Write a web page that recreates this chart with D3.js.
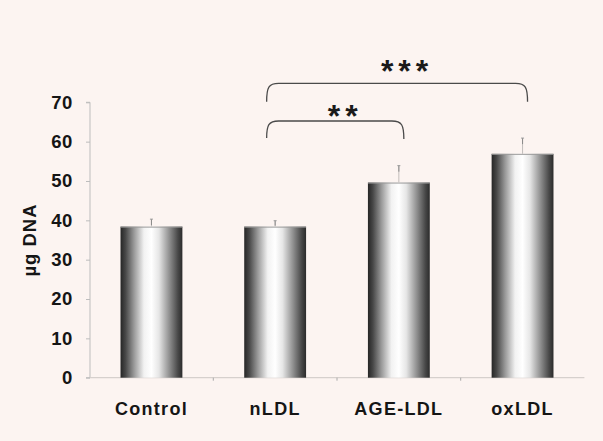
<!DOCTYPE html>
<html>
<head>
<meta charset="utf-8">
<script src="https://cdn.jsdelivr.net/npm/d3@7"></script>
<style>
  html, body { margin: 0; padding: 0; background: #fcf4f1; }
  svg { display: block; }
  text { font-family: "Liberation Sans", Arial, sans-serif; }
</style>
</head>
<body>
<svg id="chart" width="603" height="441"></svg>
<script>
// DNA content per treatment group
const categories = ["Control", "nLDL", "AGE-LDL", "oxLDL"];
const values = [38.4, 38.4, 49.6, 56.9];
const errors = [1.9, 1.5, 4.3, 4.0];
const yTicks = [0, 10, 20, 30, 40, 50, 60, 70];
const yLabel = "µg DNA";
// significance brackets: [from category, to category, label]
const brackets = [
  ["nLDL", "AGE-LDL", "**"],
  ["nLDL", "oxLDL", "***"]
];

const W = 603, H = 441;
const svg = d3.select("#chart");
svg.append("rect").attr("width", W).attr("height", H).attr("fill", "#fcf4f1");

const x = d3.scaleBand().domain(categories).range([89.6, 584.4])
  .paddingInner(0.5).paddingOuter(0.25);
const y = d3.scaleLinear().domain([0, 70]).range([377.7, 102.3]);

// cylinder-like shading for bars
const defs = svg.append("defs");
const grad = defs.append("linearGradient").attr("id", "barShade")
  .attr("x1", "0%").attr("x2", "100%").attr("y1", "0%").attr("y2", "0%");
[[0, "#262626"], [0.08, "#474747"], [0.22, "#9a9a9a"], [0.38, "#f2f2f2"],
 [0.5, "#ffffff"], [0.62, "#e6e6e6"], [0.8, "#8a8a8a"], [0.93, "#474747"], [1, "#2b2b2b"]]
  .forEach(([o, c]) => grad.append("stop").attr("offset", o).attr("stop-color", c));

// y axis
const yAxis = d3.axisLeft(y).tickValues(yTicks).tickSize(4).tickPadding(13)
  .tickFormat(d3.format("d"));
const gy = svg.append("g").attr("transform", "translate(90,0)").call(yAxis);
gy.select(".domain").attr("stroke", "#bdbdbd").attr("d", `M-4,${y(0)}H0V${y(70)}H-4`);
gy.selectAll(".tick line").attr("stroke", "#bdbdbd");
gy.selectAll(".tick text").attr("font-size", 18.5).attr("font-weight", "bold")
  .attr("fill", "#151515").attr("letter-spacing", 0.6)
  .attr("font-family", "Liberation Sans, Arial, sans-serif");

// y axis title
svg.append("text")
  .attr("transform", `translate(36,240) rotate(-90)`)
  .attr("text-anchor", "middle")
  .attr("font-size", 18.5).attr("font-weight", "bold").attr("fill", "#151515")
  .attr("letter-spacing", 1)
  .text(yLabel);

// x axis: baseline, category dividers and labels
const gx = svg.append("g").attr("transform", `translate(0,${y(0)})`);
gx.append("line").attr("x1", 90).attr("x2", 584.4).attr("y1", 0).attr("y2", 0)
  .attr("stroke", "#d6d0cd").attr("stroke-width", 1.2);
const step = x.step();
const dividers = categories.slice(1).map(c => x(c) - step * x.paddingInner() / 2);
gx.selectAll("line.div").data(dividers).join("line").attr("class", "div")
  .attr("x1", d => d).attr("x2", d => d).attr("y1", 0).attr("y2", 3)
  .attr("stroke", "#aaaaaa");
const xAxis = d3.axisBottom(x).tickSize(0).tickPadding(25);
const gl = svg.append("g").attr("transform", `translate(0,${y(0)})`).call(xAxis);
gl.select(".domain").remove();
gl.selectAll(".tick text").attr("font-size", 18).attr("font-weight", "bold")
  .attr("fill", "#151515").attr("letter-spacing", 1.3)
  .attr("font-family", "Liberation Sans, Arial, sans-serif");

// bars
svg.selectAll("rect.bar").data(categories).join("rect").attr("class", "bar")
  .attr("x", d => x(d)).attr("width", x.bandwidth())
  .attr("y", (d, i) => y(values[i])).attr("height", (d, i) => y(0) - y(values[i]))
  .attr("fill", "url(#barShade)");
svg.selectAll("line.bartop").data(categories).join("line").attr("class", "bartop")
  .attr("x1", d => x(d)).attr("x2", d => x(d) + x.bandwidth())
  .attr("y1", (d, i) => y(values[i]) + 0.5).attr("y2", (d, i) => y(values[i]) + 0.5)
  .attr("stroke", "#9a9a9a").attr("stroke-width", 1);

// error whiskers: faint stem, darker tip
const cx = d => x(d) + x.bandwidth() / 2;
svg.selectAll("line.err").data(categories).join("line").attr("class", "err")
  .attr("x1", cx).attr("x2", cx)
  .attr("y1", (d, i) => y(values[i])).attr("y2", (d, i) => y(values[i] + errors[i]))
  .attr("stroke", "#c2bdbb").attr("stroke-width", 1);
svg.selectAll("line.tip").data(categories).join("line").attr("class", "tip")
  .attr("x1", cx).attr("x2", cx)
  .attr("y1", (d, i) => Math.min(y(values[i]) - 1, y(values[i] + errors[i]) + 6))
  .attr("y2", (d, i) => y(values[i] + errors[i]))
  .attr("stroke", "#8a8a8a").attr("stroke-width", 1);
svg.selectAll("line.cap").data(categories).join("line").attr("class", "cap")
  .attr("x1", d => cx(d) - 1.5).attr("x2", d => cx(d) + 1.5)
  .attr("y1", (d, i) => y(values[i] + errors[i])).attr("y2", (d, i) => y(values[i] + errors[i]))
  .attr("stroke", "#9a9a9a").attr("stroke-width", 1);

// significance brackets
const bracketLevels = [{ top: 121, leftEnd: 138, rightEnd: 139, lab: 127 },
                       { top: 83.3, leftEnd: 101.7, rightEnd: 101.7, lab: 82 }];
brackets.forEach(([a, b, lab], i) => {
  const L = bracketLevels[i];
  const x0 = cx(a) - 8.5, x1 = cx(b) + 5;
  const r = 12;
  const p = d3.path();
  p.moveTo(x0, L.leftEnd);
  p.bezierCurveTo(x0, L.top + 4, x0 + 2, L.top, x0 + r, L.top);
  p.lineTo(x1 - r, L.top);
  p.bezierCurveTo(x1 - 2, L.top, x1, L.top + 4, x1, L.rightEnd);
  svg.append("path").attr("d", p.toString()).attr("fill", "none")
    .attr("stroke", "#4a4a4a").attr("stroke-width", 1.3);
  svg.append("text").attr("x", (x0 + x1) / 2 + 10).attr("y", L.lab)
    .attr("text-anchor", "middle").attr("font-size", 32).attr("font-weight", "bold")
    .attr("fill", "#1a1a1a").attr("letter-spacing", 5)
    .text(lab);
});
</script>
</body>
</html>
